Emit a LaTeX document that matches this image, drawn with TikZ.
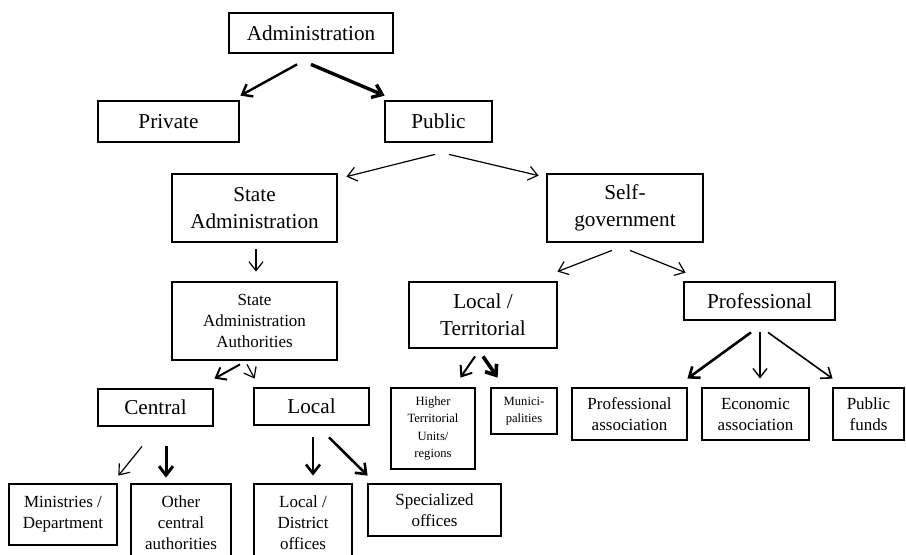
\documentclass[tikz,border=0pt]{standalone}
\usepackage{fontspec}
\setmainfont{Liberation Serif}
\usetikzlibrary{arrows.meta,calc}

\tikzset{
    box/.style={draw, line width=1.4pt, inner sep=0pt, align=center},
    bigtxt/.style={font=\fontsize{10.6}{13.5}\selectfont},
    midtxt/.style={font=\fontsize{8.5}{10.5}\selectfont},
    smalltxt/.style={font=\fontsize{6.3}{8.7}\selectfont},
    arr/.style={-{Straight Barb[length=4.5pt,width=7pt]}, line width=0.6pt},
    arrmid/.style={arr, line width=1pt},
    arrthick/.style={arr, line width=1.5pt},
}

\begin{document}
\begin{tikzpicture}[x=0.5pt, y=-0.5pt]
    \useasboundingbox (0,0) rectangle (906,554);
    \clip (0,0) rectangle (906,554);

    \node[box, bigtxt, minimum width=82pt, minimum height=20pt] (admin) at (311,33) {Administration};
    \node[box, bigtxt, minimum width=70.5pt, minimum height=20.5pt] (private) at (168.5,121.5) {Private};
    \node[box, bigtxt, minimum width=53.5pt, minimum height=20.5pt] (public) at (438.5,121.5) {Public};

    \node[box, bigtxt, minimum width=82.5pt, minimum height=34pt] (stateadm) at (254.5,208) {State\\Administration};
    \node[box, bigtxt, minimum width=78pt, minimum height=34pt] (selfgov) at (625,208) {Self-\\government};

    \node[box, midtxt, minimum width=82.5pt, minimum height=39pt] (saa) at (254.5,321) {State\\Administration\\Authorities};
    \node[box, bigtxt, minimum width=74pt, minimum height=33pt] (localterr) at (483,315) {Local /\\Territorial};
    \node[box, bigtxt, minimum width=75.5pt, minimum height=19pt] (prof) at (759.5,301) {Professional};

    \node[box, bigtxt, minimum width=57.5pt, minimum height=18.5pt] (central) at (155.5,407.5) {Central};
    \node[box, bigtxt, minimum width=57.5pt, minimum height=18.5pt] (local) at (311.5,406.5) {Local};

    \node[box, smalltxt, minimum width=42pt, minimum height=40.5pt] (higher) at (433,428.5) {Higher\\Territorial\\Units/\\regions};
    \node[box, smalltxt, minimum width=33pt, minimum height=23pt] (munici) at (524,411) {Munici-\\palities};
    \node[box, midtxt, minimum width=57.5pt, minimum height=26pt] (profassoc) at (629.5,414) {Professional\\association};
    \node[box, midtxt, minimum width=53.5pt, minimum height=26pt] (econ) at (755.5,414) {Economic\\association};
    \node[box, midtxt, minimum width=35.5pt, minimum height=26pt] (funds) at (868.5,414) {Public\\funds};

    \node[box, midtxt, minimum width=54pt, minimum height=30.5pt] (ministries) at (63,514.5) {Ministries /\\Department};
    \node[box, midtxt, minimum width=50pt, minimum height=39pt] (other) at (181,523) {Other\\central\\authorities};
    \node[box, midtxt, minimum width=49pt, minimum height=39pt] (localdist) at (303,523) {Local /\\District\\offices};
    \node[box, midtxt, minimum width=66.5pt, minimum height=26pt] (special) at (434.5,510) {Specialized\\offices};

    \draw[arrmid, line width=1.2pt] ($(admin.south)+(-14,10)$) -- ($(private.north east)+(0,-4)$);
    \draw[arrthick, line width=1.7pt] ($(admin.south)+(0,10)$) -- ($(public.north west)+(1,-4)$);
    \draw[arr] ($(public.south)+(-3.5,11)$) -- ($(stateadm.north east)+(8,4)$);
    \draw[arr] ($(public.south)+(10.5,11)$) -- ($(selfgov.north west)+(-7,3)$);
    \draw[arr] ($(stateadm.south)+(1.5,6)$) -- ($(saa.north)+(1.5,-9)$);
    \draw[arr] ($(selfgov.south)+(-13,7)$) -- ($(localterr.north east)+(-1,-9)$);
    \draw[arr] ($(selfgov.south)+(5,7)$) -- ($(prof.north west)+(3,-8)$);
    \draw[arrmid] ($(saa.south)+(-14.5,3)$) -- ($(central.north east)+(0,-9)$);
    \draw[arr] ($(saa.south)+(-7.5,3)$) -- ($(local.north west)+(2,-8)$);
    \draw[arr] ($(central.south)+(-13.5,19)$) -- ($(ministries.north east)+(0,-7)$);
    \draw[arrthick] ($(central.south)+(10.5,19)$) -- ($(other.north)+(-15,-5)$);
    \draw[arrthick, line width=1.3pt] ($(local.south)+(1.5,11)$) -- ($(localdist.north)+(10,-7)$);
    \draw[arrthick, line width=1.3pt] ($(local.south)+(17.5,11)$) -- ($(special.north west)+(1,-7)$);
    \draw[arrmid] ($(localterr.south)+(-8,7)$) -- ($(higher.north east)+(-16,-9)$);
    \draw[arrthick, line width=1.8pt] ($(localterr.south)+(0,7)$) -- ($(munici.north west)+(8,-9)$);
    \draw[arrthick, line width=1.3pt] ($(prof.south)+(-8.5,11)$) -- ($(profassoc.north east)+(-1,-8)$);
    \draw[arr, line width=0.7pt] ($(prof.south)+(0.5,11)$) -- ($(econ.north)+(4.5,-8)$);
    \draw[arr, line width=0.8pt] ($(prof.south)+(8.5,11)$) -- ($(funds.north west)+(1,-8)$);
\end{tikzpicture}
\end{document}
